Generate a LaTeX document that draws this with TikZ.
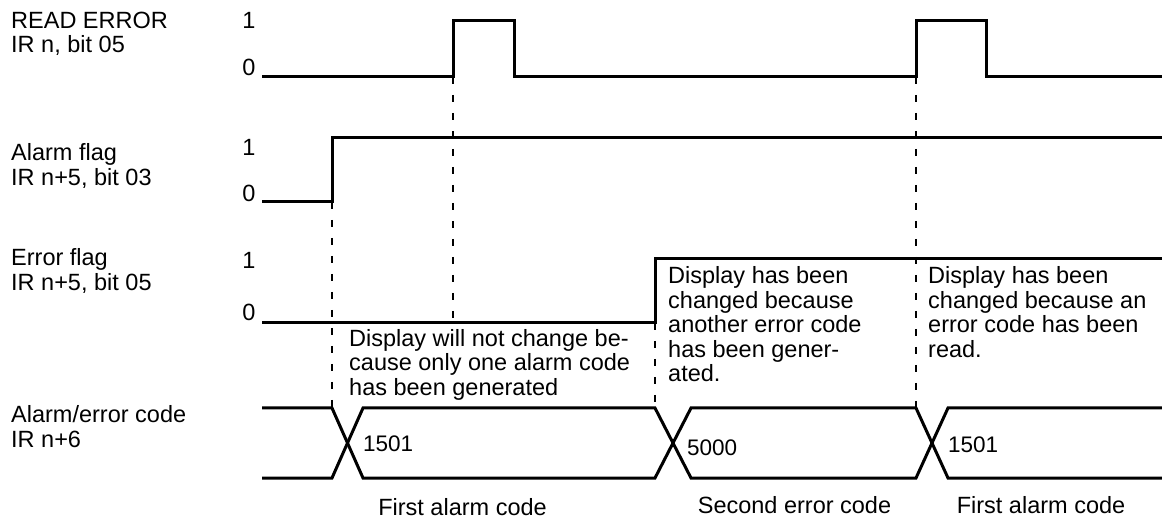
\documentclass[tikz,border=0pt]{standalone}
\usepackage{fontspec}
\setsansfont{Liberation Sans}

\begin{document}
\begin{tikzpicture}[font=\sffamily\fontsize{23.5}{24.5}\selectfont,x=1pt,y=-1pt,
  wave/.style={line width=3pt},
  guide/.style={line width=2.6pt,dash pattern=on 7pt off 11pt},
  note/.style={anchor=base west,inner sep=0pt,align=left},
  level/.style={inner sep=0pt},
  code/.style={anchor=base west,inner sep=0pt,font=\sffamily\fontsize{22.5}{24}\selectfont}]
\useasboundingbox (0,0) rectangle (1162,518);
% signal names and 1/0 levels (notes sit on the baseline of their last line)
\foreach \y/\nm/\lab/\one/\zero in {
  53/rderr/{READ ERROR\\IR n, bit 05}/20/67,
  185.5/alarm/{Alarm flag\\IR n+5, bit 03}/147/193,
  290.5/error/{Error flag\\IR n+5, bit 05}/260/312}{
  \node[note] (\nm) at (11,\y) {\lab};
  \node[level] (\nm one) at (249,\one) {1};
  \node[level] (\nm zero) at (249,\zero) {0};
}
\node[note] (bus) at (11,447) {Alarm/error code\\IR n+6};
% waveforms
\draw[wave] (262,77) -- (453,77) -- (453,21) -- (514,21) -- (514,77) -- (916,77)
  -- (916,21) -- (986,21) -- (986,77) -- (1162,77);
\draw[wave] (262,202) -- (332,202) -- (332,138) -- (1162,138);
\draw[wave] (262,323) -- (655,323) -- (655,259) -- (1162,259);
\draw[wave] (262,408) -- (332,408) -- (363,478) -- (655,478) -- (691,408) -- (916,408)
  -- (948,478) -- (1162,478);
\draw[wave] (262,478) -- (332,478) -- (363,408) -- (655,408) -- (691,478) -- (916,478)
  -- (948,408) -- (1162,408);
\foreach \x/\ya/\yb in {332/202/408, 453/77/323, 655/323/408, 916/77/408}
  \draw[guide] (\x,\ya) -- (\x,\yb);
% codes on the bus
\node[code] (c1) at (363,451) {1501};
\node[code] (c2) at (687,455.5) {5000};
\node[code] (c3) at (948,452) {1501};
% notes
\node[note] (keep) at (349,395.5) {Display will not change be-\\cause only one alarm code\\has been generated};
\node[note] (chg1) at (668,382) {Display has been\\changed because\\another error code\\has been gener-\\ated.};
\node[note] (chg2) at (928,357.5) {Display has been\\changed because an\\error code has been\\read.};
\node[anchor=base,inner sep=0pt] (first1) at (462.5,515) {First alarm code};
\node[anchor=base,inner sep=0pt] (second) at (794.5,513) {Second error code};
\node[anchor=base,inner sep=0pt] (first2) at (1041,513) {First alarm code};
\end{tikzpicture}
\end{document}
